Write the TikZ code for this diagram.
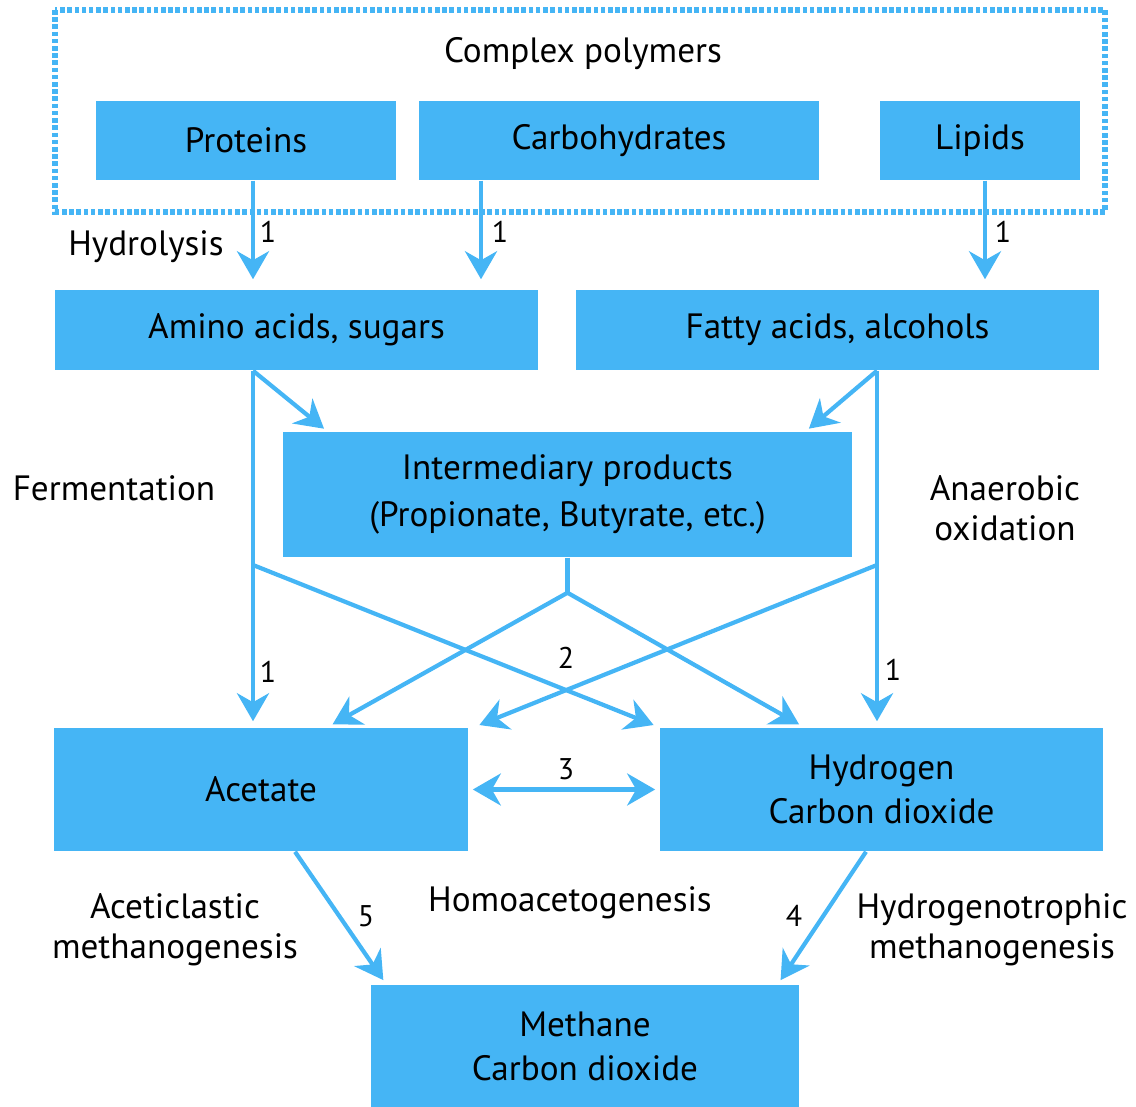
\documentclass[tikz,border=0pt]{standalone}
\usepackage{fontspec}
\setmainfont{PT Sans}
\usetikzlibrary{arrows.meta,positioning}
\definecolor{boxblue}{RGB}{69,181,245}

\begin{document}
\begin{tikzpicture}[
    x=0.01cm, y=-0.01cm,
    stage/.style={
        fill=boxblue, inner sep=0pt, align=center,
        font=\fontsize{10}{12.5}\selectfont
    },
    flow/.style={
        draw=boxblue, line width=1.2pt,
        -{Stealth[length=2.8mm,width=3.2mm,inset=0.9mm]}
    },
    link/.style={draw=boxblue, line width=1.2pt},
    phase/.style={align=center, font=\fontsize{10}{11.5}\selectfont},
    num/.style={font=\fontsize{8.5}{9}\selectfont}
]
\useasboundingbox (0,0) rectangle (1136,1107);

% Complex polymers frame
\draw[boxblue, line width=1.5pt, dash pattern=on 1.3pt off 0.75pt] (55,10) rectangle (1105,212);
\node[phase] (poly) at (583,54) {Complex polymers};

% Boxes
\node[stage, minimum width=3cm, minimum height=0.79cm] (prot) at (246,140.5) {Proteins};
\node[stage, minimum width=4cm, minimum height=0.79cm] (carb) at (619,140.5) {Carbohydrates};
\node[stage, minimum width=2cm, minimum height=0.79cm] (lip) at (980,140.5) {Lipids};
\node[stage, minimum width=4.83cm, minimum height=0.8cm] (amino) at (296.5,330) {Amino acids, sugars};
\node[stage, minimum width=5.23cm, minimum height=0.8cm] (fatty) at (837.5,330) {Fatty acids, alcohols};
\node[stage, minimum width=5.69cm, minimum height=1.25cm,
      font=\fontsize{10}{13.4}\selectfont] (inter) at (567.5,494.5)
      {Intermediary products\\(Propionate, Butyrate, etc.)};
\node[stage, minimum width=4.14cm, minimum height=1.23cm] (acet) at (261,789.5) {Acetate};
\node[stage, minimum width=4.43cm, minimum height=1.23cm] (hyd) at (881.5,789.5) {Hydrogen\\Carbon dioxide};
\node[stage, minimum width=4.28cm, minimum height=1.22cm] (meth) at (585,1046) {Methane\\Carbon dioxide};

% Process labels
\node[phase] (hydro) at (146,247) {Hydrolysis};
\node[phase] (ferm) at (114,488) {Fermentation};
\node[phase] (anox) at (1005,508) {Anaerobic\\oxidation};
\node[phase] (acms) at (175,930) {Aceticlastic\\methanogenesis};
\node[phase] (homo) at (570,903) {Homoacetogenesis};
\node[phase] (hyms) at (992,930) {Hydrogenotrophic\\methanogenesis};

% Helper coordinates
\coordinate (colA) at (253,0);
\coordinate (colB) at (481,0);
\coordinate (colC) at (985,0);
\coordinate (colD) at (877,0);
\coordinate (xL) at (253,565);
\coordinate (xR) at (877,565);
\coordinate (split) at ([yshift=-0.35cm]inter.south);
\coordinate (inL) at ([xshift=0.45cm]inter.north west);
\coordinate (inR) at ([xshift=-0.47cm]inter.north east);
\coordinate (acA) at ([xshift=2.74cm]acet.north west);
\coordinate (acB) at ([xshift=0.05cm]acet.north east);
\coordinate (hyA) at (hyd.north west);
\coordinate (hyB) at ([xshift=1.45cm]hyd.north west);
\coordinate (meL) at ([xshift=0.16cm]meth.north west);
\coordinate (meR) at ([xshift=-0.22cm]meth.north east);

% Hydrolysis
\draw[flow, shorten >=0.1cm] (prot.south -| colA) -- (amino.north -| colA);
\draw[flow, shorten >=0.1cm] (carb.south -| colB) -- (amino.north -| colB);
\draw[flow, shorten >=0.1cm] (lip.south -| colC) -- (fatty.north -| colC);

% Fermentation and anaerobic oxidation
\draw[flow, shorten >=0.06cm] (amino.south -| colA) -- (acet.north -| colA);
\draw[flow, shorten >=0.06cm] (fatty.south -| colD) -- (hyd.north -| colD);
\draw[flow, shorten >=0.04cm] (amino.south -| colA) -- (inL);
\draw[flow, shorten >=0.04cm] (fatty.south -| colD) -- (inR);
\draw[flow, shorten >=0.06cm] (xL) -- (hyA);
\draw[flow, shorten >=0.06cm] (xR) -- (acB);
\draw[link] (inter.south) -- (split);
\draw[flow, shorten >=0.06cm] (split) -- (acA);
\draw[flow, shorten >=0.06cm] (split) -- (hyB);

% Homoacetogenesis
\draw[flow, {Stealth[length=2.8mm,width=3.2mm,inset=0.9mm]}-{Stealth[length=2.8mm,width=3.2mm,inset=0.9mm]},
      shorten <=0.04cm, shorten >=0.04cm] (acet.east) -- (hyd.west);

% Methanogenesis
\draw[flow, shorten >=0.05cm] ([xshift=0.34cm]acet.south) -- (meL);
\draw[flow, shorten >=0.05cm] ([xshift=-0.155cm]hyd.south) -- (meR);

% Step numbers
\node[num] (n1a) at (268,232) {1};
\node[num] (n1b) at (500,232) {1};
\node[num] (n1c) at (1003,232) {1};
\node[num] (n1d) at (268,672) {1};
\node[num] (n1e) at (893,670) {1};
\node[num] (n2) at (566,658) {2};
\node[num] (n3) at (566,769) {3};
\node[num] (n5) at (366,916) {5};
\node[num] (n4) at (794,916) {4};

\end{tikzpicture}
\end{document}
